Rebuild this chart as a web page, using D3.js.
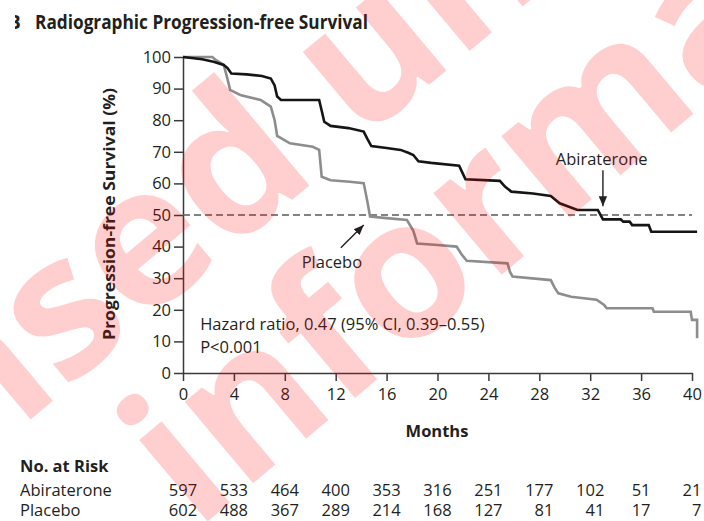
<!DOCTYPE html>
<html>
<head>
<meta charset="utf-8">
<script src="https://cdn.jsdelivr.net/npm/d3@7"></script>
<style>
  body { margin: 0; background: #fff; }
  svg { display: block; font-family: "Open Sans", sans-serif; }
  .axis path, .axis line { stroke: #3a3a3a; stroke-width: 1.5; }
  .axis text { fill: #231f20; font-size: 16.5px; font-family: "Open Sans", sans-serif; }
  .lbl { fill: #231f20; font-size: 16.5px; }
  .bold { font-weight: bold; }
</style>
</head>
<body>
<div id="chart"></div>
<script>
// Kaplan-Meier curves, vertices: [month, percent]
var abiraterone = [[0,100],[1.5,99.3],[2.4,98.5],[3.2,97.5],[3.5,96.5],[3.8,94.8],[5,94.5],[6.2,94],[6.9,93.2],[7.2,91],[7.4,87.5],[7.7,86.4],
  [10.7,86.4],[10.9,83],[11.1,79.5],[11.6,78.2],[13,77.5],[14.2,76.4],[14.5,74],[14.8,71.8],[16,71.2],[17.1,70.6],[17.7,69.7],[18.1,69],
  [18.5,67],[19.5,66.5],[21.7,65.6],[22,63],[22.2,61.3],[24.9,60.8],[25.3,59],[25.8,57.4],[27.5,56.8],[28.9,56],[29.6,53.7],[31,51.6],
  [32.6,51.6],[33,48.6],[34.4,48.6],[34.6,47.9],[35.1,47.9],[35.3,46.8],[36.6,46.8],[36.8,44.7],[40.4,44.7]];
var placebo = [[0,100],[2.3,100],[2.6,99],[3.2,97.5],[3.5,93],[3.7,89.6],[4.5,88],[6.1,86.4],[6.9,84.3],[7.2,80],[7.4,75],[8.4,72.7],
  [10.2,71.6],[10.7,70.6],[10.9,62.1],[11.6,61],[13.1,60.5],[14.2,60.1],[14.5,54],[14.7,49.5],[16,49],[17.6,48.4],[18.1,45],[18.4,41],
  [20,40.5],[21.5,40],[21.9,37.5],[22.3,35.5],[25.5,34.7],[25.7,32],[25.9,30.5],[28.9,29.4],[29.2,27],[29.5,25.2],[30.5,24.1],[32.5,23.2],
  [33.1,21.5],[33.3,20.5],[36.9,20.5],[37,19.4],[39.9,19.4],[40,16.8],[40.4,16.8],[40.4,11]];

// tick labels
var monthTicks = [0,4,8,12,16,20,24,28,32,36,40];
var pctTicks = [0,10,20,30,40,50,60,70,80,90,100];

// number at risk
var riskTimes = [0,4,8,12,16,20,24,28,32,36,40];
var abiRisk = [597,533,464,400,353,316,251,177,102,51,21];
var plaRisk = [602,488,367,289,214,168,127,81,41,17,7];

var width = 704, height = 521;
var svg = d3.select('#chart').append('svg')
    .attr('width', width).attr('height', height);

var x = d3.scaleLinear().domain([0,40]).range([183,692]);
var y = d3.scaleLinear().domain([0,100]).range([373,57]);

// title (panel letter cut off at the left)
svg.append('clipPath').attr('id','cut').append('rect')
    .attr('x',15).attr('y',0).attr('width',20).attr('height',40);
svg.append('text').attr('class','lbl bold').attr('clip-path','url(#cut)')
    .attr('x',8).attr('y',29).style('font-size','19px').text('B');
svg.append('text').attr('class','lbl bold')
    .attr('x',35).attr('y',29).style('font-size','19px')
    .attr('textLength',333).attr('lengthAdjust','spacingAndGlyphs')
    .text('Radiographic Progression-free Survival');

// axes
var yAxis = svg.append('g').attr('class','axis')
    .attr('transform','translate(183,0)')
    .call(d3.axisLeft(y).tickValues(pctTicks).tickSize(9).tickSizeOuter(0).tickPadding(3));
var xAxis = svg.append('g').attr('class','axis')
    .attr('transform','translate(0,373)')
    .call(d3.axisBottom(x).tickValues(monthTicks).tickSize(8).tickSizeOuter(0).tickPadding(5));
xAxis.selectAll('text').attr('dy','0.85em');

svg.append('text').attr('class','lbl bold')
    .attr('transform','translate(115,214) rotate(-90)')
    .attr('text-anchor','middle')
    .attr('textLength',252).attr('lengthAdjust','spacingAndGlyphs')
    .text('Progression-free Survival (%)');
svg.append('text').attr('class','lbl bold')
    .attr('x',437).attr('y',437).attr('text-anchor','middle')
    .text('Months');

// median reference line
svg.append('line')
    .attr('x1',x(0)).attr('x2',x(40)).attr('y1',y(50)).attr('y2',y(50))
    .attr('stroke','#5a5a5a').attr('stroke-width',1.6).attr('stroke-dasharray','7,4');

var line = d3.line().x(function(d){ return x(d[0]); }).y(function(d){ return y(d[1]); });
svg.append('path').attr('d',line(placebo))
    .attr('fill','none').attr('stroke','#8d8d8d').attr('stroke-width',2.6);
svg.append('path').attr('d',line(abiraterone))
    .attr('fill','none').attr('stroke','#151515').attr('stroke-width',2.6);

// arrows
var defs = svg.append('defs');
defs.append('marker').attr('id','arrow')
    .attr('viewBox','0 0 10 10').attr('refX',10).attr('refY',5)
    .attr('markerWidth',10).attr('markerHeight',10).attr('markerUnits','userSpaceOnUse')
    .attr('orient','auto')
    .append('path').attr('d','M0,0.8L10,5L0,9.2Z').attr('fill','#231f20');

svg.append('line')
    .attr('x1',x(33)).attr('y1',y(64.2)).attr('x2',x(33)).attr('y2',y(52.8))
    .attr('stroke','#231f20').attr('stroke-width',1.4).attr('marker-end','url(#arrow)');
svg.append('text').attr('class','lbl')
    .attr('x',x(32.9)).attr('y',y(65.8)).attr('text-anchor','middle').text('Abiraterone');

svg.append('line')
    .attr('x1',x(12.4)).attr('y1',y(39.6)).attr('x2',x(14.2)).attr('y2',y(46.8))
    .attr('stroke','#231f20').attr('stroke-width',1.4).attr('marker-end','url(#arrow)');
svg.append('text').attr('class','lbl')
    .attr('x',x(11.7)).attr('y',y(33.2)).attr('text-anchor','middle').text('Placebo');

svg.append('text').attr('class','lbl')
    .attr('x',x(1.35)).attr('y',y(13.6)).text('Hazard ratio, 0.47 (95% CI, 0.39\u20130.55)');
svg.append('text').attr('class','lbl')
    .attr('x',x(1.35)).attr('y',y(6.3)).text('P<0.001');

// number at risk table
svg.append('text').attr('class','lbl bold').attr('x',20).attr('y',472).text('No. at Risk');
svg.append('text').attr('class','lbl').attr('x',20).attr('y',496).text('Abiraterone');
svg.append('text').attr('class','lbl').attr('x',20).attr('y',516).text('Placebo');

var cols = svg.selectAll('.col').data(riskTimes).enter().append('g').attr('class','col');
cols.each(function(t, i){
  var g = d3.select(this);
  var a = g.append('text').attr('class','lbl').attr('y',496).attr('text-anchor','end').text(abiRisk[i]);
  var p = g.append('text').attr('class','lbl').attr('y',516).attr('text-anchor','end').text(plaRisk[i]);
  var w = Math.max(a.node().getComputedTextLength(), p.node().getComputedTextLength());
  a.attr('x', x(t) + w/2);
  p.attr('x', x(t) + w/2);
});

// watermark overlay: place one letter of each line on a point, rotated
var wmSize = 195;
var wm = svg.append('g').attr('pointer-events','none')
    .style('font-family','"Open Sans", sans-serif').style('font-weight','bold')
    .style('font-size', wmSize + 'px').attr('fill','#ff0000').attr('fill-opacity',0.19);
function stamp(str, k, cx, cy, ang) {
  var t = wm.append('text').text(str);
  var n = t.node();
  var adv = n.getSubStringLength(0, k) + n.getSubStringLength(k, 1) / 2;
  var a = ang * Math.PI / 180, half = 0.27 * wmSize;
  // baseline point under the letter centre, then back along the line
  var bx = cx - half * Math.sin(a), by = cy + half * Math.cos(a);
  var sx = bx - adv * Math.cos(a), sy = by - adv * Math.sin(a);
  t.attr('transform', 'translate(' + sx + ',' + sy + ') rotate(' + ang + ')');
}
stamp('Licensed under', 7, 240, 175, -40);
stamp('information', 3, 410, 283, -40);
</script>
</body>
</html>
